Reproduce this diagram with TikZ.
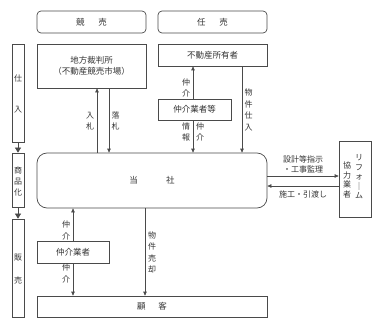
\documentclass[tikz,border=0pt]{standalone}
\usepackage{fontspec}
\setmainfont{Noto Sans CJK JP}
\usetikzlibrary{arrows.meta}
\definecolor{ln}{HTML}{4A4A4A}
\definecolor{tx}{HTML}{333333}
\tikzset{
  box/.style={draw=ln, line width=0.7pt, inner sep=0pt, text=tx, align=center, font=\fontsize{8.5}{11}\selectfont},
  rbox/.style={box, rounded corners=4pt},
  lbl/.style={inner sep=0pt, text=tx, align=center, font=\fontsize{8}{11.5}\selectfont},
  arr/.style={draw=ln, line width=0.7pt, -{Triangle[length=4pt,width=3.5pt]}},
}
\begin{document}
\begin{tikzpicture}[x=1pt,y=-1pt]
\useasboundingbox (0,0) rectangle (388,329);
% top headers
\node[rbox, minimum width=109pt, minimum height=22pt] (keibai) at (91.5,22) {競\hspace{1.6em}売};
\node[rbox, minimum width=109pt, minimum height=22pt] (nibai) at (212.5,22) {任\hspace{1.6em}売};
% side bars
\node[box, minimum width=12pt, minimum height=98pt] (shiire) at (18,93) {};
\node[box, minimum width=12pt, minimum height=54pt] (shohin) at (18,180) {};
\node[box, minimum width=12pt, minimum height=98pt] (hanbai) at (18,268) {};
\node[lbl] (t1) at (18,78) {仕};
\node[lbl] (t2) at (18,110) {入};
\node[lbl, font=\fontsize{8}{11}\selectfont] (t3) at (18,181) {商\\品\\化};
\node[lbl] (t4) at (18,258) {販};
\node[lbl] (t5) at (18,280) {売};
\draw[draw=ln, line width=0.6pt, -{Triangle[length=5pt,width=6pt]}] (shiire.south) -- (shohin.north);
\draw[draw=ln, line width=0.6pt, -{Triangle[length=5pt,width=6pt]}] (shohin.south) -- (hanbai.north);
% boxes
\node[box, minimum width=109pt, minimum height=44pt] (chiho) at (91.5,66) {地方裁判所\\（不動産競売市場）};
\node[box, minimum width=109pt, minimum height=22pt] (shoyu) at (212.5,55) {不動産所有者};
\node[box, minimum width=73pt, minimum height=21pt] (chukaiA) at (194.5,109.5) {仲介業者等};
\node[box, rounded corners=10pt, minimum width=230pt, minimum height=55pt] (tosha) at (152,180.5) {当\hspace{3.3em}社};
\node[box, minimum width=72pt, minimum height=22pt] (chukaiB) at (73,252) {仲介業者};
\node[box, minimum width=230pt, minimum height=21pt] (kokyaku) at (152,306.5) {顧\hspace{1.5em}客};
\node[box, minimum width=32pt, minimum height=76pt] (reform) at (355,179) {};
\node[lbl, font=\fontsize{8}{9.5}\selectfont] (rf1) at (359,177) {リ\\フ\\ォ\\｜\\ム};
\node[lbl, font=\fontsize{8}{9.5}\selectfont] (rf2) at (347,180) {協\\力\\業\\者};
% x coordinates of vertical connectors
\coordinate (xa) at (97,0);
\coordinate (xb) at (109,0);
\coordinate (xc) at (193,0);
\coordinate (xd) at (242,0);
\coordinate (xe) at (73,0);
\coordinate (xf) at (145,0);
\coordinate (ya) at (0,176);
\coordinate (yb) at (0,186);
% connectors
\draw[arr] (tosha.north -| xa) -- (chiho.south -| xa);
\draw[arr] (chiho.south -| xb) -- (tosha.north -| xb);
\draw[arr] (chukaiA.north -| xc) -- (shoyu.south -| xc);
\draw[arr] (chukaiA.south -| xc) -- (tosha.north -| xc);
\draw[arr] (shoyu.south -| xd) -- (tosha.north -| xd);
\draw[arr] (tosha.east |- ya) -- (reform.west |- ya);
\draw[arr] (reform.west |- yb) -- (tosha.east |- yb);
\draw[arr] (chukaiB.north -| xe) -- (tosha.south -| xe);
\draw[arr] (chukaiB.south -| xe) -- (kokyaku.north -| xe);
\draw[arr] (tosha.south -| xf) -- (kokyaku.north -| xf);
% connector labels
\node[lbl] (l1) at (90,121) {入\\札};
\node[lbl] (l2) at (115.5,121) {落\\札};
\node[lbl, font=\fontsize{8}{10.5}\selectfont] (l3) at (186,88) {仲\\介};
\node[lbl, font=\fontsize{8}{10.5}\selectfont] (l4) at (186,132) {情\\報};
\node[lbl, font=\fontsize{8}{10.5}\selectfont] (l5) at (200,132) {仲\\介};
\node[lbl] (l6) at (248.5,110) {物\\件\\仕\\入};
\node[lbl] (l7) at (66,230.5) {仲\\介};
\node[lbl] (l8) at (66,273.5) {仲\\介};
\node[lbl] (l9) at (152,252.5) {物\\件\\売\\却};
\node[lbl, align=left, font=\fontsize{8}{9.5}\selectfont] (l10) at (303,164.5) {設計等指示\\・工事監理};
\node[lbl, font=\fontsize{8}{9.5}\selectfont] (l11) at (303,194) {施工・引渡し};
\end{tikzpicture}
\end{document}
